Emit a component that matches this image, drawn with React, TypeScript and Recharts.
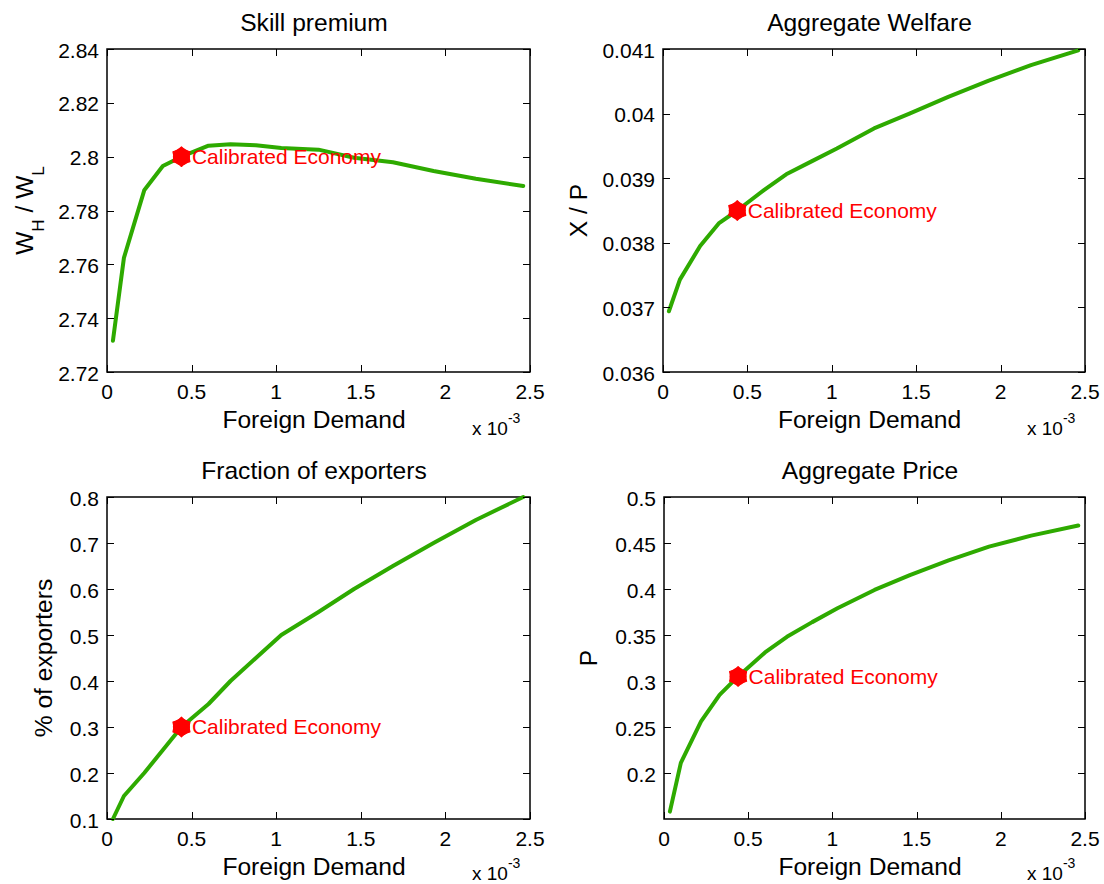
import React from "react";
import { LineChart, Line, XAxis, YAxis, ReferenceDot, ReferenceArea, Label } from "recharts";

const FONT = '"Liberation Sans", Arial, Helvetica, sans-serif';
const GREEN = "#2EAA00";
const RED = "#FF0000";

// foreign demand grid (x 10^-3)
const foreignDemand = [0.035, 0.1, 0.22, 0.33, 0.44, 0.6, 0.73, 0.88, 1.03, 1.25, 1.46, 1.69, 1.93, 2.18, 2.46];
const skillPremium = [2.7316, 2.7624, 2.7875, 2.7965, 2.8, 2.8041, 2.8046, 2.8042, 2.8032, 2.8026, 2.7996, 2.7979, 2.7947, 2.7918, 2.7891];
const welfare = [0.03694, 0.03743, 0.03795, 0.0383, 0.0385, 0.03882, 0.03906, 0.03926, 0.03946, 0.03977, 0.04, 0.04026, 0.04051, 0.04075, 0.04098];
const exporters = [0.1, 0.15, 0.2, 0.25, 0.3, 0.35, 0.4, 0.45, 0.5, 0.55, 0.6, 0.65, 0.7, 0.75, 0.8];
const price = [0.158, 0.211, 0.256, 0.285, 0.305, 0.331, 0.348, 0.364, 0.379, 0.399, 0.415, 0.431, 0.446, 0.458, 0.469];

// calibrated economy point
const calibX = 0.44;
const calibSkill = 2.8;
const calibWelfare = 0.0385;
const calibExporters = 0.3;
const calibPrice = 0.305;

const xDomain: [number, number] = [0, 2.5];
const xTicks = [0, 0.5, 1, 1.5, 2, 2.5];
const skillTicks = [2.72, 2.74, 2.76, 2.78, 2.8, 2.82, 2.84];
const welfareTicks = [0.036, 0.037, 0.038, 0.039, 0.04, 0.041];
const exporterTicks = [0.1, 0.2, 0.3, 0.4, 0.5, 0.6, 0.7, 0.8];
const priceTicks = [0.2, 0.25, 0.3, 0.35, 0.4, 0.45, 0.5];

const W = 552;
const H = 442;
const TICK = 7;

function Hexagram(props: any) {
  const { cx, cy } = props;
  const pts: string[] = [];
  for (let i = 0; i < 12; i++) {
    const r = i % 2 === 0 ? 9.8 : 7.4;
    const a = (Math.PI / 6) * i - Math.PI / 2;
    pts.push(`${cx + r * Math.cos(a)},${cy + r * Math.sin(a)}`);
  }
  return (
    <g>
      <circle cx={cx} cy={cy} r={8.6} fill={RED} />
      <polygon points={pts.join(" ")} fill={RED} stroke={RED} strokeWidth={1.2} strokeLinejoin="round" />
    </g>
  );
}

type Plot = { x0: number; x1: number; y0: number; y1: number };

function Panel({
  left,
  top,
  plot,
  values,
  domain,
  ticks,
  calibY,
  title,
  yLabel,
  yLabelX,
}: {
  left: number;
  top: number;
  plot: Plot;
  values: number[];
  domain: [number, number];
  ticks: number[];
  calibY: number;
  title: string;
  yLabel: React.ReactNode;
  yLabelX: number;
}) {
  const data = foreignDemand.map((x, i) => ({ x, y: values[i] }));
  const cxMid = (plot.x0 + plot.x1) / 2 - 4.5;
  const cyMid = (plot.y0 + plot.y1) / 2;
  const expY = Math.min(plot.y1 + 63, H - 4);

  // MATLAB-style ticks: inward on both opposite sides, label outside
  const XTick = (p: any) => {
    const x = Math.round(p.x) + 0.5;
    return (
      <g>
        <line x1={x} x2={x} y1={plot.y1} y2={plot.y1 - TICK} stroke="#000" />
        <line x1={x} x2={x} y1={plot.y0} y2={plot.y0 + TICK} stroke="#000" />
        <text x={p.x} y={plot.y1 + 26.5} textAnchor="middle" fontSize={21} fontFamily={FONT} fill="#000">
          {p.payload.value}
        </text>
      </g>
    );
  };
  const YTick = (p: any) => {
    const y = Math.round(p.y) + 0.5;
    return (
      <g>
        <line x1={plot.x0} x2={plot.x0 + TICK} y1={y} y2={y} stroke="#000" />
        <line x1={plot.x1} x2={plot.x1 - TICK} y1={y} y2={y} stroke="#000" />
        <text x={plot.x0 - 8} y={p.y + 8.5} textAnchor="end" fontSize={21} fontFamily={FONT} fill="#000">
          {p.payload.value}
        </text>
      </g>
    );
  };

  return (
    <div style={{ position: "absolute", left, top, width: W, height: H }}>
      <LineChart
        width={W}
        height={H}
        data={data}
        margin={{ top: plot.y0, right: W - plot.x1, bottom: 0, left: 0 }}
      >
        <XAxis
          dataKey="x"
          type="number"
          domain={xDomain}
          ticks={xTicks}
          interval={0}
          height={H - plot.y1}
          axisLine={false}
          tickLine={false}
          tick={XTick}
        >
          <Label
            content={() => (
              <g fontFamily={FONT} fill="#000">
                <text x={cxMid} y={plot.y0 - 18} textAnchor="middle" fontSize={24.6}>
                  {title}
                </text>
                <text x={cxMid} y={plot.y1 + 56} textAnchor="middle" fontSize={24.6}>
                  Foreign Demand
                </text>
                <text x={plot.x1 - 58} y={expY} fontSize={19}>
                  x 10
                  <tspan dy={-12} fontSize={14}>
                    -3
                  </tspan>
                </text>
              </g>
            )}
          />
        </XAxis>
        <YAxis
          type="number"
          domain={domain}
          ticks={ticks}
          interval={0}
          width={plot.x0}
          axisLine={false}
          tickLine={false}
          tick={YTick}
        >
          <Label
            content={() => (
              <text
                x={yLabelX}
                y={cyMid}
                transform={`rotate(-90 ${yLabelX} ${cyMid})`}
                textAnchor="middle"
                fontSize={24.6}
                fontFamily={FONT}
                fill="#000"
              >
                {yLabel}
              </text>
            )}
          />
        </YAxis>
        <ReferenceArea
          x1={xDomain[0]}
          x2={xDomain[1]}
          y1={domain[0]}
          y2={domain[1]}
          fill="none"
          stroke="#000"
          strokeWidth={1.5}
          ifOverflow="visible"
        />
        <Line
          type="linear"
          dataKey="y"
          stroke={GREEN}
          strokeWidth={4}
          strokeLinejoin="round"
          strokeLinecap="round"
          dot={false}
          activeDot={false}
          isAnimationActive={false}
        />
        <ReferenceDot
          x={calibX}
          y={calibY}
          r={8}
          shape={Hexagram}
          label={{
            value: "Calibrated Economy",
            position: "right",
            offset: 2.5,
            fill: RED,
            fontSize: 21,
            fontFamily: FONT,
          }}
        />
      </LineChart>
    </div>
  );
}

export default function App() {
  return (
    <div
      style={{
        position: "absolute",
        left: 0,
        top: 0,
        width: 1104,
        height: 884,
        background: "#fff",
        fontFamily: FONT,
      }}
    >
      <Panel
        left={0}
        top={0}
        plot={{ x0: 107, x1: 530, y0: 49, y1: 372 }}
        values={skillPremium}
        domain={[2.72, 2.84]}
        ticks={skillTicks}
        calibY={calibSkill}
        title="Skill premium"
        yLabelX={33}
        yLabel={
          <>
            W
            <tspan dy={11} fontSize={17}>
              H
            </tspan>
            <tspan dy={-11}> / W</tspan>
            <tspan dy={11} fontSize={17}>
              L
            </tspan>
          </>
        }
      />
      <Panel
        left={552}
        top={0}
        plot={{ x0: 111, x1: 533, y0: 49, y1: 372 }}
        values={welfare}
        domain={[0.036, 0.041]}
        ticks={welfareTicks}
        calibY={calibWelfare}
        title="Aggregate Welfare"
        yLabelX={35}
        yLabel="X / P"
      />
      <Panel
        left={0}
        top={442}
        plot={{ x0: 107, x1: 530, y0: 55, y1: 377 }}
        values={exporters}
        domain={[0.1, 0.8]}
        ticks={exporterTicks}
        calibY={calibExporters}
        title="Fraction of exporters"
        yLabelX={52}
        yLabel="% of exporters"
      />
      <Panel
        left={552}
        top={442}
        plot={{ x0: 112, x1: 533, y0: 55, y1: 377 }}
        values={price}
        domain={[0.15, 0.5]}
        ticks={priceTicks}
        calibY={calibPrice}
        title="Aggregate Price"
        yLabelX={45}
        yLabel="P"
      />
    </div>
  );
}
